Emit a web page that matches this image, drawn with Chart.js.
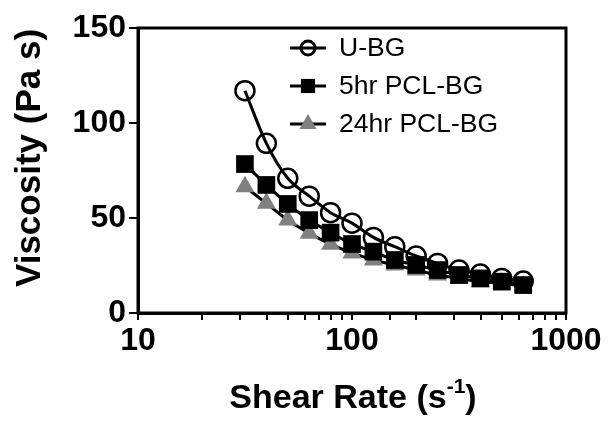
<!DOCTYPE html>
<html>
<head>
<meta charset="utf-8">
<script src="https://cdn.jsdelivr.net/npm/chart.js@4/dist/chart.umd.min.js"></script>
<style>
  html, body { margin: 0; padding: 0; background: #fff; }
  #wrap { width: 609px; height: 421px; }
</style>
</head>
<body>
<div id="wrap"><canvas id="viscosityChart" width="609" height="421"></canvas></div>
<script>
// shear rate (1/s), 10 points per decade
const shearRates = [31.6, 39.8, 50.1, 63.1, 79.4, 100, 125.9, 158.5, 199.5, 251.2, 316.2, 398.1, 501.2, 631];
const viscUBG = [117, 89.3, 70.9, 61.5, 52.8, 47.3, 39.8, 34.9, 30.0, 26.1, 22.6, 20.5, 18.2, 16.8];
const visc5hr = [78.4, 67.4, 57.4, 48.9, 42.3, 36.3, 32.3, 27.9, 25.3, 22.6, 20.0, 18.2, 16.5, 14.7];
const visc24hr = [66.5, 57.7, 48.9, 42.0, 36.2, 31.6, 27.9, 25.3, 22.6, 20.0, 18.2, 16.5, 15.6, 14.2];
const yTicks = [0, 50, 100, 150];
const xLabels = [10, 100, 1000];

const FONT = '"Liberation Sans", Arial, Helvetica, sans-serif';

const toPoints = (vals) => shearRates.map((x, i) => ({ x: x, y: vals[i] }));

const frameAndTitles = {
	id: 'frameAndTitles',
	afterDraw(chart) {
		const ctx = chart.ctx;
		const a = chart.chartArea;
		ctx.save();
		ctx.strokeStyle = '#000';
		ctx.lineWidth = 3;
		ctx.strokeRect(a.left, a.top, a.right - a.left, a.bottom - a.top);

		// y title
		ctx.fillStyle = '#000';
		ctx.font = 'bold 35px ' + FONT;
		ctx.textAlign = 'center';
		ctx.textBaseline = 'middle';
		ctx.save();
		ctx.translate(30, 158);
		ctx.rotate(-Math.PI / 2);
		ctx.fillText('Viscosity (Pa s)', 0, 0);
		ctx.restore();

		// x title with superscript
		const main = 'Shear Rate (s';
		const sup = '-1';
		const close = ')';
		ctx.font = 'bold 34px ' + FONT;
		const wMain = ctx.measureText(main).width;
		const wClose = ctx.measureText(close).width;
		ctx.font = 'bold 21px ' + FONT;
		const wSup = ctx.measureText(sup).width;
		const total = wMain + wSup + wClose;
		let x = 353 - total / 2;
		const base = 408;
		ctx.textAlign = 'left';
		ctx.textBaseline = 'alphabetic';
		ctx.font = 'bold 34px ' + FONT;
		ctx.fillText(main, x, base);
		x += wMain;
		ctx.font = 'bold 21px ' + FONT;
		ctx.fillText(sup, x, base - 15);
		x += wSup;
		ctx.font = 'bold 34px ' + FONT;
		ctx.fillText(close, x, base);

		// legend
		const rows = [48, 86, 124];
		ctx.font = '26.5px ' + FONT;
		ctx.textBaseline = 'middle';
		chart.data.datasets.forEach((ds, i) => {
			const y = rows[i];
			ctx.strokeStyle = '#000';
			ctx.lineWidth = 3;
			ctx.beginPath();
			ctx.moveTo(290, y);
			ctx.lineTo(326, y);
			ctx.stroke();
			ctx.fillStyle = ds.pointBackgroundColor;
			ctx.strokeStyle = ds.pointBorderColor;
			Chart.helpers.drawPoint(ctx, {
				pointStyle: ds.pointStyle,
				rotation: 0,
				radius: ds.legendRadius,
				borderWidth: ds.pointBorderWidth
			}, 308, y);
			ctx.fillStyle = '#000';
			ctx.fillText(ds.label, 339, y + 1);
		});
		ctx.restore();
	}
};

const ctx = document.getElementById('viscosityChart').getContext('2d');

new Chart(ctx, {
	type: 'line',
	data: {
		datasets: [{
			label: 'U-BG',
			data: toPoints(viscUBG),
			borderColor: '#000',
			borderWidth: 3,
			pointStyle: 'circle',
			pointRadius: 9.5,
			legendRadius: 7,
			pointBackgroundColor: 'rgba(255,255,255,0)',
			pointBorderColor: '#000',
			pointBorderWidth: 2.5,
			cubicInterpolationMode: 'monotone',
			order: 3
		}, {
			label: '5hr PCL-BG',
			data: toPoints(visc5hr),
			borderColor: '#000',
			borderWidth: 3,
			pointStyle: 'rect',
			pointRadius: 12.5,
			legendRadius: 10,
			pointBackgroundColor: '#000',
			pointBorderColor: '#000',
			pointBorderWidth: 0,
			cubicInterpolationMode: 'monotone',
			order: 1
		}, {
			label: '24hr PCL-BG',
			data: toPoints(visc24hr),
			borderColor: '#000',
			borderWidth: 3,
			pointStyle: 'triangle',
			pointRadius: 11,
			legendRadius: 10,
			pointBackgroundColor: '#808080',
			pointBorderColor: '#808080',
			pointBorderWidth: 0,
			cubicInterpolationMode: 'monotone',
			order: 2
		}]
	},
	options: {
		responsive: false,
		animation: false,
		layout: { padding: { top: 28, right: 43, bottom: 0, left: 0 } },
		plugins: {
			legend: { display: false },
			tooltip: { enabled: false }
		},
		scales: {
			x: {
				type: 'logarithmic',
				min: 10,
				max: 1000,
				border: { color: '#000', width: 3 },
				grid: { drawOnChartArea: false, drawTicks: true, tickLength: 7, color: '#000', lineWidth: 2 },
				ticks: {
					autoSkip: false,
					maxRotation: 0,
					padding: 2,
					color: '#000',
					font: { family: FONT, size: 32, weight: 'bold' },
					callback: (v) => xLabels.includes(v) ? String(v) : ''
				},
				afterFit: (scale) => { scale.height = 108; }
			},
			y: {
				min: 0,
				max: 150,
				border: { color: '#000', width: 3 },
				grid: { drawOnChartArea: false, drawTicks: true, tickLength: 9, color: '#000', lineWidth: 2 },
				afterBuildTicks: (scale) => { scale.ticks = yTicks.map(v => ({ value: v })); },
				ticks: {
					padding: 3,
					color: '#000',
					font: { family: FONT, size: 32, weight: 'bold' }
				},
				afterFit: (scale) => { scale.width = 138; }
			}
		}
	},
	plugins: [frameAndTitles]
});
</script>
</body>
</html>
